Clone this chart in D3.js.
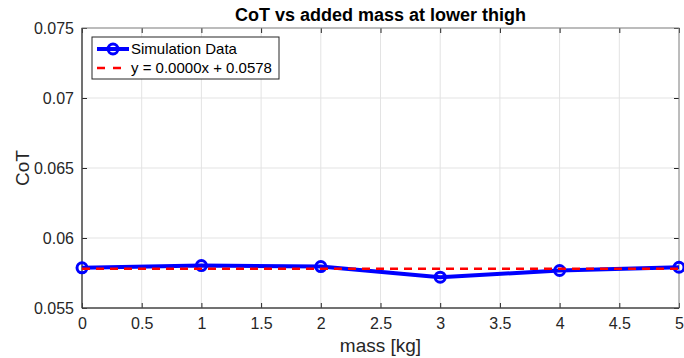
<!DOCTYPE html>
<html>
<head>
<meta charset="utf-8">
<script src="https://cdn.jsdelivr.net/npm/d3@7"></script>
<style>
  html, body { margin: 0; padding: 0; background: #fff; }
  svg { display: block; font-family: "Liberation Sans", Arial, Helvetica, sans-serif; }
</style>
</head>
<body>
<svg id="chart" width="684" height="358"></svg>
<script>
// Added mass at the lower thigh [kg] and resulting cost of transport
const massKg = [0, 1, 2, 3, 4, 5];
const cotValues = [0.05787, 0.05803, 0.05796, 0.05720, 0.05768, 0.05791];

// Linear fit coefficients as printed in the legend
const fitSlope = 0.0000;
const fitIntercept = 0.0578;

const xTicks = [0, 0.5, 1, 1.5, 2, 2.5, 3, 3.5, 4, 4.5, 5];
const yTicks = [0.055, 0.06, 0.065, 0.07, 0.075];
const yTickLabels = ["0.055", "0.06", "0.065", "0.07", "0.075"];

const titleText = "CoT vs added mass at lower thigh";
const xLabel = "mass [kg]";
const yLabel = "CoT";
const legendLabels = ["Simulation Data", "y = 0.0000x + 0.0578"];

const svg = d3.select("#chart");
const margin = { left: 82, right: 5, top: 28, bottom: 50 };
const W = 684, H = 358;
const x0 = margin.left, x1 = W - margin.right;
const y0 = margin.top, y1 = H - margin.bottom;

const x = d3.scaleLinear().domain([0, 5]).range([x0, x1]);
const y = d3.scaleLinear().domain([0.055, 0.075]).range([y1, y0]);

const axisColor = "#262626";
const gridColor = "#e3e3e3";

// Grid
const grid = svg.append("g");
grid.selectAll("line.gx").data(xTicks).join("line")
  .attr("x1", d => x(d)).attr("x2", d => x(d))
  .attr("y1", y0).attr("y2", y1)
  .attr("stroke", gridColor).attr("stroke-width", 1);
grid.selectAll("line.gy").data(yTicks).join("line")
  .attr("x1", x0).attr("x2", x1)
  .attr("y1", d => y(d)).attr("y2", d => y(d))
  .attr("stroke", gridColor).attr("stroke-width", 1);

// Axes (ticks pointing inward, as on a boxed plot)
const tickLen = 5;
const xAxisB = d3.axisBottom(x).tickValues(xTicks).tickSize(-tickLen).tickPadding(10)
  .tickFormat(d3.format("~g"));
const xAxisT = d3.axisTop(x).tickValues(xTicks).tickSize(-tickLen).tickFormat("");
const yAxisL = d3.axisLeft(y).tickValues(yTicks).tickSize(-tickLen).tickPadding(8)
  .tickFormat((d, i) => yTickLabels[i]);
const yAxisR = d3.axisRight(y).tickValues(yTicks).tickSize(-tickLen).tickFormat("");

function styleAxis(g) {
  g.select(".domain").remove();
  g.selectAll(".tick line").attr("stroke", axisColor).attr("stroke-width", 1);
  g.selectAll(".tick text").attr("fill", axisColor).attr("font-size", 16)
    .attr("font-family", "Liberation Sans, Arial, sans-serif");
}
svg.append("g").attr("transform", `translate(0,${y1})`).call(xAxisB).call(styleAxis);
svg.append("g").attr("transform", `translate(0,${y0})`).call(xAxisT).call(styleAxis);
svg.append("g").attr("transform", `translate(${x0},0)`).call(yAxisL).call(styleAxis);
svg.append("g").attr("transform", `translate(${x1},0)`).call(yAxisR).call(styleAxis);

// Box
svg.append("rect")
  .attr("x", x0).attr("y", y0).attr("width", x1 - x0).attr("height", y1 - y0)
  .attr("fill", "none").attr("stroke", "#888").attr("stroke-width", 1);
svg.append("line").attr("x1", x0).attr("x2", x1).attr("y1", y1).attr("y2", y1)
  .attr("stroke", axisColor);
svg.append("line").attr("x1", x0).attr("x2", x0).attr("y1", y0).attr("y2", y1)
  .attr("stroke", axisColor);

// Data
const pts = massKg.map((m, i) => [m, cotValues[i]]);
const line = d3.line().x(d => x(d[0])).y(d => y(d[1]));

svg.append("path").datum(pts)
  .attr("d", line).attr("fill", "none")
  .attr("stroke", "#0000ff").attr("stroke-width", 4).attr("stroke-linejoin", "round");

svg.append("g").selectAll("circle").data(pts).join("circle")
  .attr("cx", d => x(d[0])).attr("cy", d => y(d[1])).attr("r", 5)
  .attr("fill", "none").attr("stroke", "#0000ff").attr("stroke-width", 3);

// Fit line
const fitPts = [0, 5].map(m => [m, fitSlope * m + fitIntercept]);
svg.append("path").datum(fitPts)
  .attr("d", line).attr("fill", "none")
  .attr("stroke", "#ff0000").attr("stroke-width", 2.5).attr("stroke-dasharray", "8,6");

// Legend
const lg = svg.append("g").attr("transform", "translate(92,37)");
lg.append("rect").attr("width", 187).attr("height", 42)
  .attr("fill", "#fff").attr("stroke", "#262626").attr("stroke-width", 1);
lg.append("line").attr("x1", 5).attr("x2", 37).attr("y1", 12).attr("y2", 12)
  .attr("stroke", "#0000ff").attr("stroke-width", 4);
lg.append("circle").attr("cx", 21).attr("cy", 12).attr("r", 5)
  .attr("fill", "none").attr("stroke", "#0000ff").attr("stroke-width", 3);
lg.append("line").attr("x1", 5).attr("x2", 37).attr("y1", 31).attr("y2", 31)
  .attr("stroke", "#ff0000").attr("stroke-width", 2.5).attr("stroke-dasharray", "8,8");
lg.selectAll("text").data(legendLabels).join("text")
  .attr("x", 39).attr("y", (d, i) => 17 + i * 19)
  .attr("font-size", 15).attr("fill", "#000").text(d => d);

// Title and labels
svg.append("text").attr("x", (x0 + x1) / 2).attr("y", 21)
  .attr("text-anchor", "middle").attr("font-size", 18).attr("font-weight", "bold")
  .attr("fill", "#000").text(titleText);
svg.append("text").attr("x", (x0 + x1) / 2).attr("y", 352)
  .attr("text-anchor", "middle").attr("font-size", 19).attr("fill", axisColor).text(xLabel);
svg.append("text")
  .attr("transform", `translate(29,${(y0 + y1) / 2}) rotate(-90)`)
  .attr("text-anchor", "middle").attr("font-size", 19).attr("fill", axisColor).text(yLabel);
</script>
</body>
</html>
